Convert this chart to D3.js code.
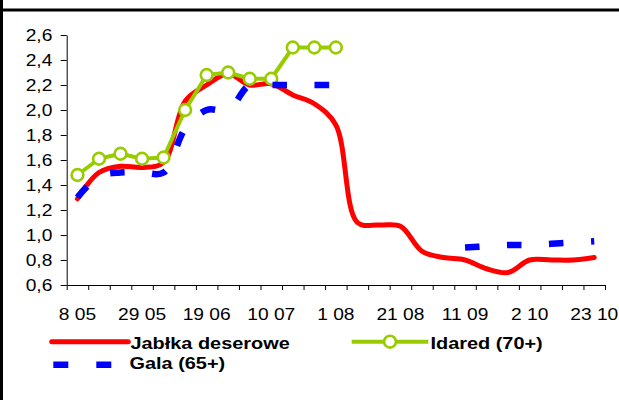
<!DOCTYPE html>
<html>
<head>
<meta charset="utf-8">
<script src="https://cdn.jsdelivr.net/npm/d3@7"></script>
<style>
  html, body { margin: 0; padding: 0; background: #fff; }
  svg { display: block; }
  text { font-family: "Liberation Sans", Arial, sans-serif; fill: #000; }
</style>
</head>
<body>
<svg id="chart" width="619" height="400"></svg>
<script>
// ---- data ----
const categories = ["8 05","15 05","22 05","29 05","5 06","12 06","19 06","26 06","3 07","10 07","17 07","24 07","1 08","8 08","14 08","21 08","28 08","4 09","11 09","18 09","25 09","2 10","9 10","16 10","23 10"];
const tickLabels = ["8 05","29 05","19 06","10 07","1 08","21 08","11 09","2 10","23 10"];
const yTicks = [0.6,0.8,1.0,1.2,1.4,1.6,1.8,2.0,2.2,2.4,2.6];

const seriesNames = ["Jabłka deserowe","Idared (70+)","Gala (65+)"];
const jablka = [1.29,1.50,1.55,1.54,1.58,2.07,2.20,2.29,2.20,2.21,2.12,2.05,1.88,1.10,1.08,1.07,0.87,0.82,0.80,0.73,0.70,0.80,0.80,0.80,0.82];
const idared = [1.48,1.61,1.65,1.61,1.62,2.00,2.28,2.30,2.25,2.25,2.50,2.50,2.50,null,null,null,null,null,null,null,null,null,null,null,null];
const gala   = [1.30,1.47,1.50,1.50,1.50,1.85,2.00,2.00,2.20,2.20,2.20,2.20,2.20,null,null,null,null,null,0.90,0.91,0.92,0.92,0.93,0.94,0.95];

// ---- layout ----
const svg = d3.select("#chart");
const plot = { left: 66.7, right: 605, top: 35, bottom: 285 };
const stretch = 1.2;

const x = d3.scaleBand().domain(categories).range([plot.left, plot.right]).padding(0);
const xEdge = d3.scaleLinear().domain([0, categories.length]).range([plot.left, plot.right]);
const y = d3.scaleLinear().domain([0.6, 2.6]).range([plot.bottom, plot.top]);
const cx = c => x(c) + x.bandwidth() / 2;

// frame
svg.append("rect").attr("x", 0).attr("y", 0).attr("width", 3).attr("height", 400).attr("fill", "#000");
svg.append("rect").attr("x", 0).attr("y", 8.5).attr("width", 619).attr("height", 3).attr("fill", "#000");

// y axis
const yAxis = svg.append("g")
  .attr("transform", `translate(${plot.left},0)`)
  .call(d3.axisLeft(y).tickValues(yTicks).tickSize(6).tickSizeOuter(0).tickPadding(8)
    .tickFormat(d => d.toFixed(1).replace(".", ",")));
yAxis.select(".domain").attr("stroke", "#000");
yAxis.selectAll(".tick line").attr("stroke", "#000");
yAxis.selectAll("text")
  .attr("x", null)
  .attr("transform", `translate(-14.4,0) scale(${stretch},1)`)
  .attr("font-size", 16).attr("font-family", "Liberation Sans, Arial, sans-serif").attr("fill", "#000");

// x axis (ticks at category boundaries)
const xAxis = svg.append("g")
  .attr("transform", `translate(0,${plot.bottom})`)
  .call(d3.axisBottom(xEdge).tickValues(d3.range(0, categories.length + 1)).tickSize(5).tickSizeOuter(0).tickFormat(""));
xAxis.select(".domain").attr("stroke", "#000");
xAxis.selectAll(".tick line").attr("stroke", "#000");

svg.append("g").selectAll("text")
  .data(categories.filter(c => tickLabels.includes(c)))
  .join("text")
  .attr("transform", d => `translate(${cx(d)},319.5) scale(${stretch},1)`)
  .attr("text-anchor", "middle")
  .attr("font-size", 16)
  .text(d => d);

// lines
const smooth = d3.line()
  .defined(d => d.v != null)
  .x(d => cx(d.c)).y(d => y(d.v))
  .curve(d3.curveCatmullRom.alpha(0.5));
const straight = d3.line()
  .defined(d => d.v != null)
  .x(d => cx(d.c)).y(d => y(d.v));

const pts = arr => categories.map((c, i) => ({ c, v: arr[i] }));

svg.append("path").datum(pts(jablka))
  .attr("d", smooth).attr("fill", "none").attr("stroke", "#FF0000").attr("stroke-width", 5)
  .attr("stroke-linejoin", "round").attr("stroke-linecap", "round");

svg.append("path").datum(pts(idared))
  .attr("d", straight).attr("fill", "none").attr("stroke", "#99CC00").attr("stroke-width", 4)
  .attr("stroke-linejoin", "round");
svg.append("g").selectAll("circle")
  .data(pts(idared).filter(d => d.v != null))
  .join("circle")
  .attr("cx", d => cx(d.c)).attr("cy", d => y(d.v)).attr("r", 5.9)
  .attr("fill", "#fff").attr("stroke", "#99CC00").attr("stroke-width", 2.6);

svg.append("path").datum(pts(gala))
  .attr("d", smooth).attr("fill", "none").attr("stroke", "#0000FF").attr("stroke-width", 6.5)
  .attr("stroke-dasharray", "14.5,27.5").attr("stroke-linecap", "butt");

// legend
const lg = svg.append("g");
lg.append("line").attr("x1", 51.7).attr("x2", 128.3).attr("y1", 341.7).attr("y2", 341.7)
  .attr("stroke", "#FF0000").attr("stroke-width", 5).attr("stroke-linecap", "round");
lg.append("text").attr("transform", "translate(130.5,349) scale(1.17,1)")
  .attr("font-size", 17).attr("font-weight", "bold").text(seriesNames[0]);

lg.append("line").attr("x1", 351.7).attr("x2", 428.3).attr("y1", 341.7).attr("y2", 341.7)
  .attr("stroke", "#99CC00").attr("stroke-width", 4);
lg.append("circle").attr("cx", 390).attr("cy", 341.7).attr("r", 5.9)
  .attr("fill", "#fff").attr("stroke", "#99CC00").attr("stroke-width", 2.6);
lg.append("text").attr("transform", "translate(430.5,349) scale(1.17,1)")
  .attr("font-size", 17).attr("font-weight", "bold").text(seriesNames[1]);

lg.append("line").attr("x1", 53.3).attr("x2", 128.3).attr("y1", 364.7).attr("y2", 364.7)
  .attr("stroke", "#0000FF").attr("stroke-width", 6.5).attr("stroke-dasharray", "15,28");
lg.append("text").attr("transform", "translate(129.5,368.5) scale(1.17,1)")
  .attr("font-size", 17).attr("font-weight", "bold").text(seriesNames[2]);
</script>
</body>
</html>
